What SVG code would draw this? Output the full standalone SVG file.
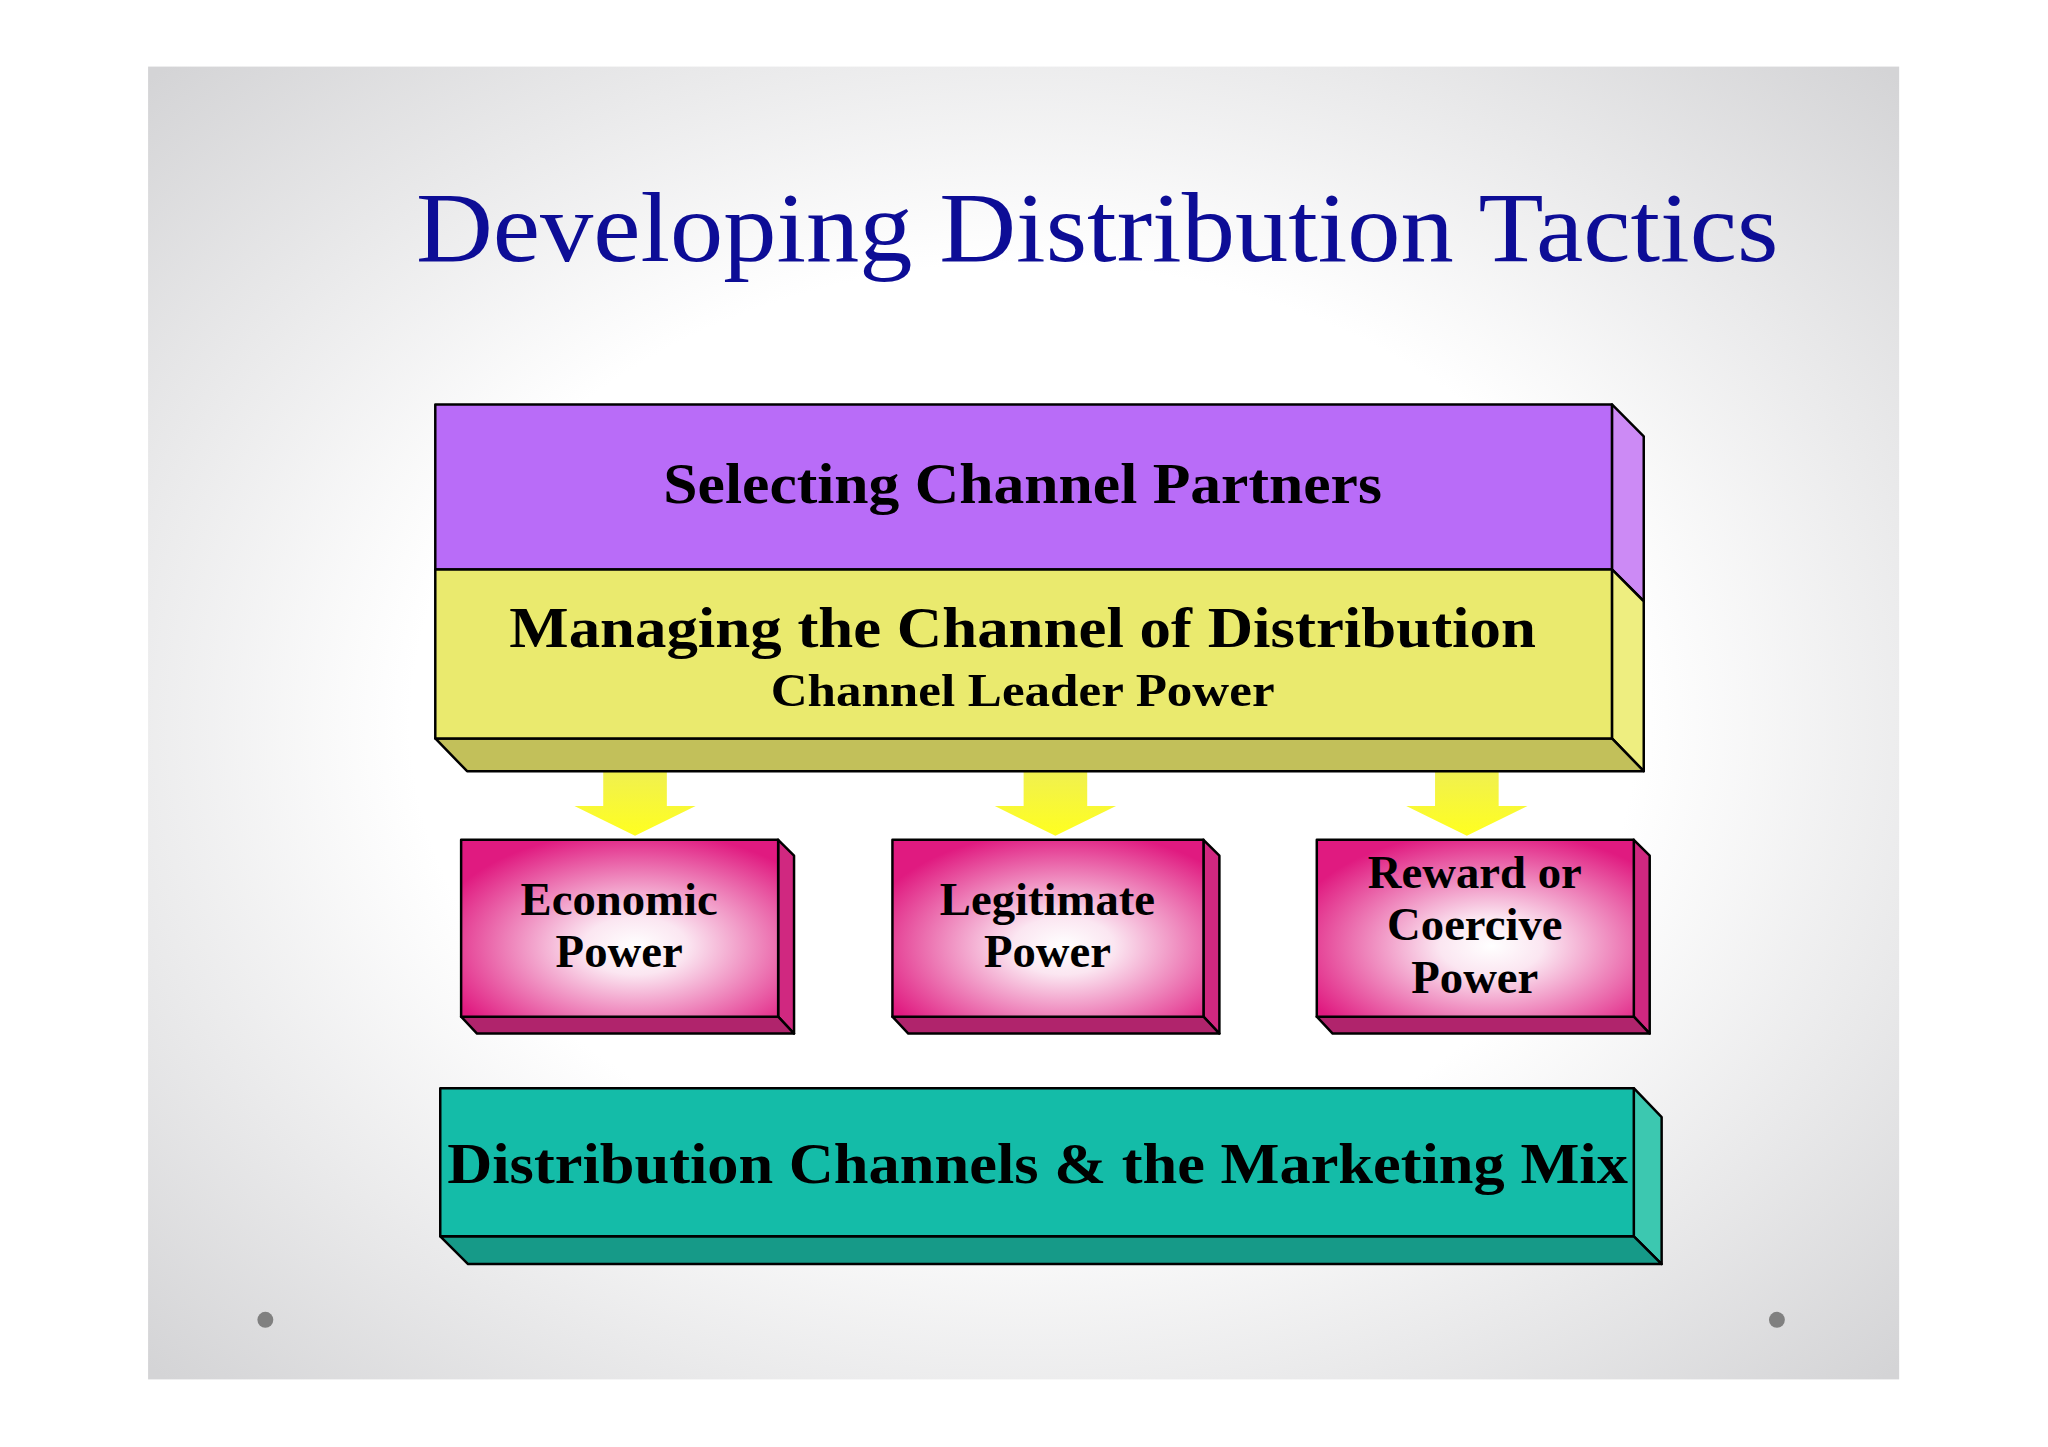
<svg xmlns="http://www.w3.org/2000/svg" width="2048" height="1447" viewBox="0 0 2048 1447">
<defs>
<radialGradient id="bg" cx="50%" cy="50%" r="70%"><stop offset="0.5" stop-color="#ffffff"/><stop offset="1" stop-color="#d4d4d6"/></radialGradient>
<radialGradient id="pk" cx="55%" cy="60%" r="65%"><stop offset="0" stop-color="#ffffff"/><stop offset="0.25" stop-color="#fbe6f1"/><stop offset="1" stop-color="#e01a80"/></radialGradient>
<linearGradient id="ar" x1="0" y1="0" x2="0" y2="1"><stop offset="0" stop-color="#f0f050"/><stop offset="1" stop-color="#ffff20"/></linearGradient>
<style>
.o{stroke:#000;stroke-width:2.5;stroke-linejoin:round}
.t{font-family:"Liberation Serif","DejaVu Serif",serif;font-weight:bold;text-anchor:middle;fill:#000}
</style>
</defs>
<rect width="2048" height="1447" fill="#fff"/>
<g transform="scale(0.9938)">
<rect x="149" y="67" width="1762" height="1321" fill="url(#bg)"/>
<text x="1104" y="263" font-family="Liberation Serif,serif" font-size="100" text-anchor="middle" fill="#0d0d96" textLength="1371" lengthAdjust="spacingAndGlyphs">Developing Distribution Tactics</text>
<g id="connectors">
<polygon points="607,776 671,776 671,811 700,811 639,841 578,811 607,811" fill="url(#ar)"/>
<polygon points="1030,776 1094,776 1094,811 1123,811 1062,841 1001,811 1030,811" fill="url(#ar)"/>
<polygon points="1444,776 1508,776 1508,811 1537,811 1476,841 1415,811 1444,811" fill="url(#ar)"/>
</g>
<g id="selecting">
<polygon class="o" points="1622,407 1654,439 1654,605 1622,573" fill="#cc8af5"/>
<rect class="o" x="438" y="407" width="1184" height="166" fill="#b96cf8"/>
<text class="t" x="1029" y="506" font-size="58" textLength="723" lengthAdjust="spacingAndGlyphs">Selecting Channel Partners</text>
</g>
<g id="managing">
<polygon class="o" points="1622,573 1654,605 1654,776 1622,743" fill="#eeee80"/>
<polygon class="o" points="438,743 1622,743 1654,776 470,776" fill="#c2c05a"/>
<rect class="o" x="438" y="573" width="1184" height="170" fill="#eaea6e"/>
<text class="t" x="1029" y="651" font-size="58" textLength="1033" lengthAdjust="spacingAndGlyphs">Managing the Channel of Distribution</text>
<text class="t" x="1029" y="710" font-size="46" textLength="507" lengthAdjust="spacingAndGlyphs">Channel Leader Power</text>
</g>
<g id="economic">
<polygon class="o" points="783,845 799,861 799,1040 783,1023" fill="#d02880"/>
<polygon class="o" points="464,1023 783,1023 799,1040 480,1040" fill="#b0246c"/>
<rect class="o" x="464" y="845" width="319" height="178" fill="url(#pk)"/>
<text class="t" x="623" y="921" font-size="47">Economic</text>
<text class="t" x="623" y="973" font-size="47">Power</text>
</g>
<g id="legitimate">
<polygon class="o" points="1211,845 1227,861 1227,1040 1211,1023" fill="#d02880"/>
<polygon class="o" points="898,1023 1211,1023 1227,1040 914,1040" fill="#b0246c"/>
<rect class="o" x="898" y="845" width="313" height="178" fill="url(#pk)"/>
<text class="t" x="1054" y="921" font-size="47">Legitimate</text>
<text class="t" x="1054" y="973" font-size="47">Power</text>
</g>
<g id="reward">
<polygon class="o" points="1644,845 1660,861 1660,1040 1644,1023" fill="#d02880"/>
<polygon class="o" points="1325,1023 1644,1023 1660,1040 1341,1040" fill="#b0246c"/>
<rect class="o" x="1325" y="845" width="319" height="178" fill="url(#pk)"/>
<text class="t" x="1484" y="894" font-size="47">Reward or</text>
<text class="t" x="1484" y="946" font-size="47">Coercive</text>
<text class="t" x="1484" y="999" font-size="47">Power</text>
</g>
<g id="mix">
<polygon class="o" points="1644,1095 1672,1124 1672,1272 1644,1244" fill="#3cc8b0"/>
<polygon class="o" points="443,1244 1644,1244 1672,1272 471,1272" fill="#169a88"/>
<rect class="o" x="443" y="1095" width="1201" height="149" fill="#14bca8"/>
<text class="t" x="1044" y="1190" font-size="58" textLength="1188" lengthAdjust="spacingAndGlyphs">Distribution Channels &amp; the Marketing Mix</text>
</g>
<circle cx="267" cy="1328" r="8" fill="#808080"/>
<circle cx="1788" cy="1328" r="8" fill="#808080"/>
</g>
</svg>
